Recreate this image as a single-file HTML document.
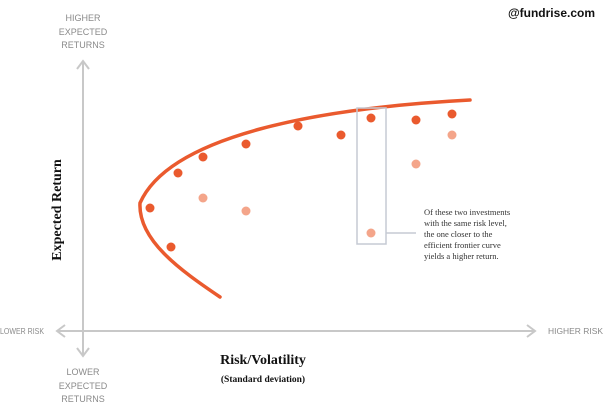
<!DOCTYPE html>
<html><head><meta charset="utf-8"><style>
body{margin:0;background:#fff}
svg{display:block}
</style></head><body>
<svg width="604" height="406" xmlns="http://www.w3.org/2000/svg">
<rect width="604" height="406" fill="#fff"/>
<g stroke="#c8c8c8" stroke-width="2" fill="none">
<line x1="83" y1="62" x2="83" y2="355"/>
<polyline points="77,69 83,61 89,69"/>
<polyline points="77,348 83,356 89,348"/>
<line x1="57" y1="331" x2="535" y2="331"/>
<polyline points="65,325 57,331 65,337"/>
<polyline points="527,325 535,331 527,337"/>
</g>
<g font-family="Liberation Sans, sans-serif" font-size="9" fill="#8a8a8a" text-anchor="middle">
<text x="83" y="21">HIGHER</text><text x="83" y="35">EXPECTED</text><text x="83" y="48">RETURNS</text>
<text x="83" y="375">LOWER</text><text x="83" y="389">EXPECTED</text><text x="83" y="402">RETURNS</text>
</g>
<g font-family="Liberation Sans, sans-serif" font-size="8.5" fill="#8a8a8a">
<text x="0" y="334" textLength="44" lengthAdjust="spacingAndGlyphs">LOWER RISK</text>
<text x="548" y="334" textLength="55" lengthAdjust="spacingAndGlyphs">HIGHER RISK</text>
</g>
<text x="595" y="17" text-anchor="end" font-family="Liberation Sans, sans-serif" font-weight="bold" font-size="12" fill="#111">@fundrise.com</text>
<text transform="translate(61,210) rotate(-90)" text-anchor="middle" font-family="Liberation Serif, serif" font-weight="bold" font-size="14" fill="#111">Expected Return</text>
<text x="263" y="364" text-anchor="middle" font-family="Liberation Serif, serif" font-weight="bold" font-size="14" fill="#111">Risk/Volatility</text>
<text x="263" y="382" text-anchor="middle" font-family="Liberation Serif, serif" font-weight="bold" font-size="9.5" fill="#111">(Standard deviation)</text>
<path d="M470,100 C 320,108 170,135 140,203 C 138,240 180,270 220,297" stroke="#ea5a2e" stroke-width="3.5" fill="none" stroke-linecap="round"/>
<rect x="357" y="108" width="29" height="136" fill="none" stroke="#c5cad4" stroke-width="1.5"/>
<line x1="386" y1="233" x2="416" y2="233" stroke="#c5cad4" stroke-width="1.5"/>
<g fill="#ea5a2e">
<circle cx="150" cy="208" r="4.5"/><circle cx="178" cy="173" r="4.5"/><circle cx="203" cy="157" r="4.5"/>
<circle cx="246" cy="144" r="4.5"/><circle cx="298" cy="126" r="4.5"/><circle cx="341" cy="135" r="4.5"/>
<circle cx="371" cy="118" r="4.5"/><circle cx="416" cy="120" r="4.5"/><circle cx="452" cy="114" r="4.5"/>
<circle cx="171" cy="247" r="4.5"/>
</g>
<g fill="#f4a58a">
<circle cx="203" cy="198" r="4.5"/><circle cx="246" cy="211" r="4.5"/><circle cx="416" cy="164" r="4.5"/>
<circle cx="452" cy="135" r="4.5"/><circle cx="371" cy="233" r="4.5"/>
</g>
<g font-family="Liberation Serif, serif" font-size="8.5" fill="#333">
<text x="424" y="215">Of these two investments</text>
<text x="424" y="226">with the same risk level,</text>
<text x="424" y="237">the one closer to the</text>
<text x="424" y="248">efficient frontier curve</text>
<text x="424" y="259">yields a higher return.</text>
</g>
</svg>
</body></html>
